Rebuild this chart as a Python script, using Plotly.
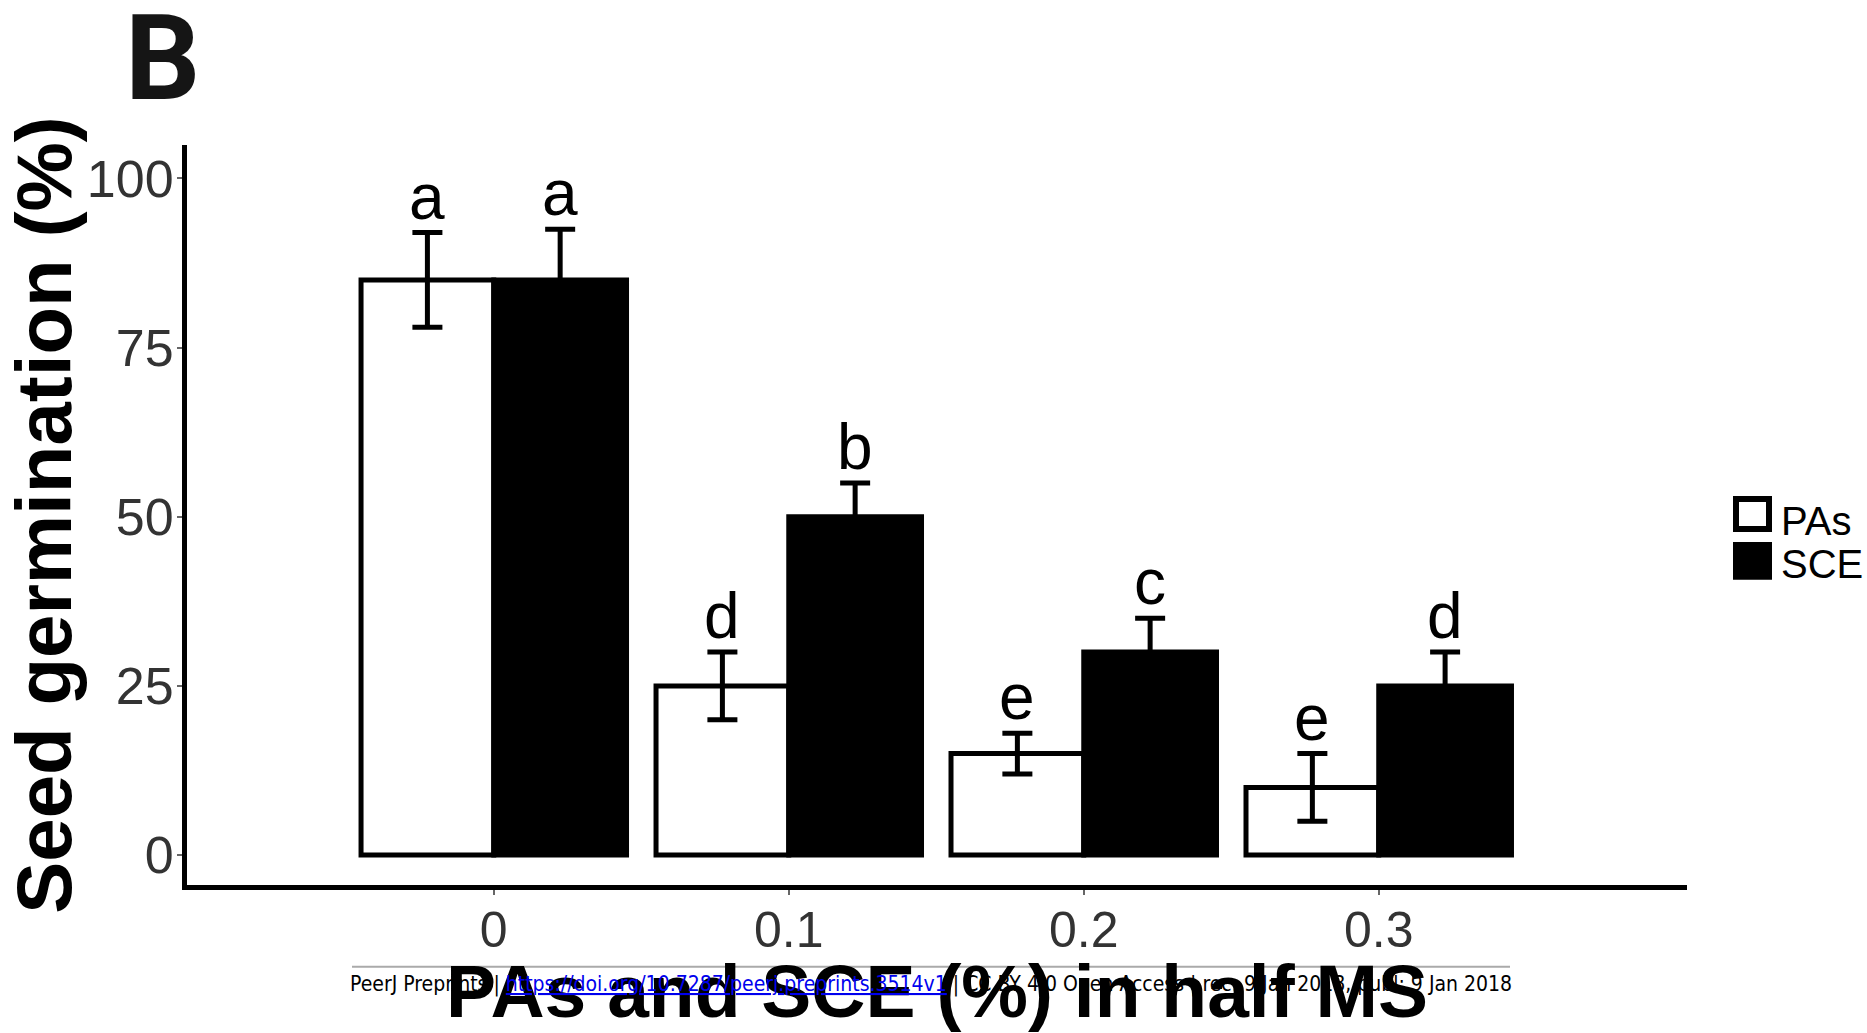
import plotly.graph_objects as go

# ---- data ----
categories = ["0", "0.1", "0.2", "0.3"]
pas_values = [85, 25, 15, 10]
pas_errors = [7, 5, 3, 5]
sce_values = [85, 50, 30, 25]
sce_errors = [7.5, 5, 5, 5]
pas_letters = ["a", "d", "e", "e"]
sce_letters = ["a", "b", "c", "d"]
y_ticks = [0, 25, 50, 75, 100]
series_names = ["PAs", "SCE"]

W, H = 1867, 1033
L, R, T, B = 187, 1687, 145, 887  # plot area in pixels


def px(xp):
    return (xp - L) / (R - L)


def py(yp):
    return (B - yp) / (B - T)


xs = list(range(len(categories)))
bar_w = 0.45

fig = go.Figure()
fig.add_trace(go.Bar(
    x=xs, y=pas_values, name=series_names[0], width=bar_w, offset=-bar_w,
    marker=dict(color="white", line=dict(color="black", width=5)),
    error_y=dict(type="data", array=pas_errors, color="black", thickness=5, width=15),
    showlegend=False,
))
fig.add_trace(go.Bar(
    x=xs, y=sce_values, name=series_names[1], width=bar_w, offset=0,
    marker=dict(color="black", line=dict(color="black", width=5)),
    error_y=dict(type="data", array=sce_errors, color="black", thickness=5, width=15),
    showlegend=False,
))

font_main = "Arial, Liberation Sans, sans-serif"
annotations = []
for i, (v, e, t) in enumerate(zip(pas_values, pas_errors, pas_letters)):
    annotations.append(dict(x=i - bar_w / 2, y=v + e, text=t, showarrow=False,
                            xref="x", yref="y", yanchor="bottom", xanchor="center", yshift=-2,
                            font=dict(family=font_main, size=64, color="black")))
for i, (v, e, t) in enumerate(zip(sce_values, sce_errors, sce_letters)):
    annotations.append(dict(x=i + bar_w / 2, y=v + e, text=t, showarrow=False,
                            xref="x", yref="y", yanchor="bottom", xanchor="center", yshift=-2,
                            font=dict(family=font_main, size=64, color="black")))

# panel label
annotations.append(dict(x=px(162), y=py(59), xref="paper", yref="paper", text="<b>B</b>",
                        showarrow=False, xanchor="center", yanchor="middle",
                        font=dict(family="Roboto, Open Sans, sans-serif", size=118, color="#151515")))

# legend (manual)
shapes = []
legend_keys = [(500, 530, "white", 522), (546, 578, "black", 565)]
for (y0, y1, fillc, ty), name in zip(legend_keys, series_names):
    shapes.append(dict(type="rect", xref="paper", yref="paper",
                       x0=px(1736), x1=px(1769), y0=py(y1), y1=py(y0),
                       fillcolor=fillc, line=dict(color="black", width=6)))
    annotations.append(dict(x=px(1779), y=py(ty), xref="paper", yref="paper",
                            text=name, showarrow=False, xanchor="left", yanchor="middle",
                            font=dict(family=font_main, size=40, color="black")))

# footer
shapes.append(dict(type="line", xref="paper", yref="paper", x0=px(352), x1=px(1510),
                   y0=py(969), y1=py(969), line=dict(color="#aaaaaa", width=2)))
footer = ("PeerJ Preprints | <span style=\"color:#0000ee;text-decoration:underline\">"
          "https://doi.org/10.7287/peerj.preprints.3514v1</span> | CC BY 4.0 Open Access | "
          "rec: 9 Jan 2018, publ: 9 Jan 2018")
annotations.append(dict(x=px(931), y=py(987), xref="paper", yref="paper", text=footer,
                        showarrow=False, xanchor="center", yanchor="middle",
                        font=dict(family="DejaVu Sans Condensed, Liberation Sans Narrow, sans-serif",
                                  size=21, color="black")))

fig.update_layout(
    width=W, height=H,
    margin=dict(l=L, r=W - R, t=T, b=H - B, pad=0),
    paper_bgcolor="white", plot_bgcolor="white",
    barmode="group",
    shapes=shapes, annotations=annotations,
    showlegend=False,
)
fig.update_xaxes(
    range=[-1.04, 4.045], tickvals=xs, ticktext=categories,
    showline=True, linewidth=5, linecolor="black", showgrid=False, zeroline=False,
    ticks="outside", ticklen=5, tickwidth=1.5, tickcolor="#666",
    ticklabelstandoff=-8,
    tickfont=dict(family=font_main, size=50, color="#333"),
    title=dict(text="<b>PAs and SCE (%) in half MS</b>", standoff=10,
               font=dict(family=font_main, size=75, color="black")),
)
fig.update_yaxes(
    range=[-4.42, 104.95], tickvals=y_ticks,
    showline=True, linewidth=5, linecolor="black", showgrid=False, zeroline=False,
    ticks="outside", ticklen=5, tickwidth=1.5, tickcolor="#666",
    ticklabelstandoff=-7,
    tickfont=dict(family=font_main, size=52, color="#333"),
    title=dict(text="<b>Seed germination (%)</b>", standoff=0,
               font=dict(family=font_main, size=78, color="black")),
)

fig.write_html("out.html")
